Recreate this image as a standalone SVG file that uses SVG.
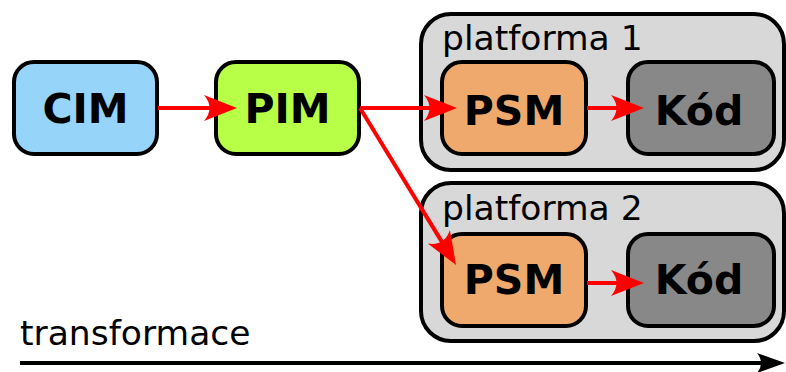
<svg xmlns="http://www.w3.org/2000/svg" width="786" height="372" viewBox="0 0 786 372">
<defs>
<style>
.box{stroke:#000;stroke-width:4}
.cont{fill:#d8d8d8;stroke:#000;stroke-width:4}
.lbl{font-family:"DejaVu Sans",sans-serif;font-weight:bold;font-size:41px;text-anchor:middle;fill:#000}
.plat{font-family:"DejaVu Sans",sans-serif;font-size:34.5px;fill:#000}
.red{stroke:#ff0000;stroke-width:4;fill:none}
</style>
<marker id="ar" markerUnits="userSpaceOnUse" viewBox="-34 -14 36 28" refX="-20" refY="0" markerWidth="36" markerHeight="28" orient="auto">
<path d="M0,0 L-33,-13 Q-22,0 -33,13 Z" fill="#ff0000"/>
</marker>
<marker id="ab" markerUnits="userSpaceOnUse" viewBox="-30 -12 32 24" refX="-16" refY="0" markerWidth="32" markerHeight="24" orient="auto">
<path d="M0,0 L-28,-10 Q-20,0 -28,10 Z" fill="#000"/>
</marker>
</defs>
<rect width="786" height="372" fill="#fff"/>
<g id="platforma1">
<rect class="cont" x="421" y="14" width="363" height="156" rx="30"/>
<text class="plat" x="442" y="50">platforma 1</text>
</g>
<g id="platforma2">
<rect class="cont" x="421" y="183" width="363" height="158" rx="30"/>
<text class="plat" x="442" y="220">platforma 2</text>
</g>
<g id="CIM">
<rect class="box" x="14" y="62" width="143" height="92" rx="20" fill="#96d4fa"/>
<text class="lbl" x="85.5" y="123">CIM</text>
</g>
<g id="PIM">
<rect class="box" x="216" y="62" width="143" height="92" rx="20" fill="#b8ff48"/>
<text class="lbl" x="287.5" y="123">PIM</text>
</g>
<g id="PSM1">
<rect class="box" x="442" y="62" width="144" height="92" rx="20" fill="#f0a96c"/>
<text class="lbl" x="514" y="125">PSM</text>
</g>
<g id="Kod1">
<rect class="box" x="628" y="62" width="146" height="92" rx="20" fill="#888888"/>
<text class="lbl" x="699" y="125">Kód</text>
</g>
<g id="PSM2">
<rect class="box" x="442" y="234" width="144" height="92" rx="20" fill="#f0a96c"/>
<text class="lbl" x="514" y="294">PSM</text>
</g>
<g id="Kod2">
<rect class="box" x="628" y="234" width="146" height="92" rx="20" fill="#888888"/>
<text class="lbl" x="699" y="294">Kód</text>
</g>
<g id="connectors">
<line class="red" x1="158" y1="108" x2="217" y2="108" marker-end="url(#ar)"/>
<line class="red" x1="360" y1="108" x2="437" y2="108" marker-end="url(#ar)"/>
<line class="red" x1="360" y1="108" x2="445.6" y2="247.9" marker-end="url(#ar)"/>
<line class="red" x1="587" y1="108" x2="624" y2="108" marker-end="url(#ar)"/>
<line class="red" x1="587" y1="283" x2="624" y2="283" marker-end="url(#ar)"/>
</g>
<g id="transformace">
<text class="plat" x="20" y="345">transformace</text>
<line x1="20" y1="363" x2="769" y2="363" stroke="#000" stroke-width="4" marker-end="url(#ab)"/>
</g>
</svg>
